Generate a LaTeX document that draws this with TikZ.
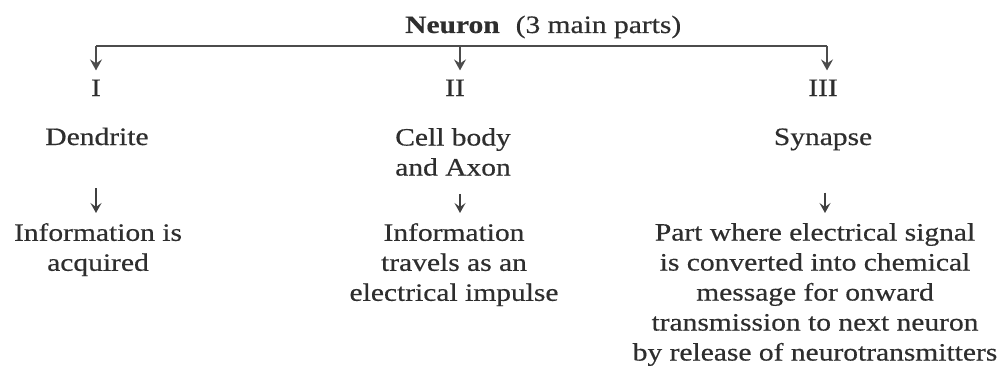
\documentclass[tikz,border=0pt]{standalone}
\usepackage{fontspec}
\setmainfont{Liberation Serif}[FakeStretch=1.18, FakeBold=0.5]
\usetikzlibrary{arrows.meta}
\begin{document}
\begin{tikzpicture}[x=1pt,y=-1pt,
  txt/.style={inner sep=0pt, font=\fontsize{25}{30}\selectfont, text=black!82, align=center},
  bar/.style={draw=black!70, line width=2pt},
  arr/.style={draw=black!70, line width=2pt, -{Stealth[length=11pt,width=12pt,inset=4pt]}},
  arrs/.style={draw=black!75, line width=1.7pt, -{Stealth[length=10pt,width=11pt,inset=4pt]}}]
\useasboundingbox (0,0) rectangle (1000,369);
% title
\node[txt, anchor=base west] (title) at (405,33) {\textbf{Neuron}\hspace{16pt}(3 main parts)};
% roman numerals
\node[txt, anchor=base] (n1) at (96,96) {I};
\node[txt, anchor=base] (n2) at (455,96) {II};
\node[txt, anchor=base] (n3) at (823,96) {III};
% part names
\node[txt, anchor=base] (d1) at (97,145) {Dendrite};
\node[txt, anchor=north] (d2) at (453,128) {Cell body\\and Axon};
\node[txt, anchor=base] (d3) at (823,145) {Synapse};
% descriptions
\node[txt, anchor=north] (e1) at (98,223) {Information is\\acquired};
\node[txt, anchor=north] (e2) at (454,223) {Information\\travels as an\\electrical impulse};
\node[txt, anchor=north] (e3) at (815,223) {Part where electrical signal\\is converted into chemical\\message for onward\\transmission to next neuron\\by release of neurotransmitters};
% branching bar
\coordinate (b1) at (96,46);
\coordinate (b2) at (460,46);
\coordinate (b3) at (827,46);
\draw[bar] (b1) -- (b3);
\draw[arr, shorten >=9pt] (b1) -- (b1 |- n1.north);
\draw[arr, shorten >=9pt] (b2) -- (b2 |- n2.north);
\draw[arr, shorten >=9pt] (b3) -- (b3 |- n3.north);
% small arrows
\draw[arrs, shorten <=43pt, shorten >=10pt] ([xshift=-1pt]d1.south) -- ([xshift=-1pt]d1.south |- e1.north);
\draw[arrs, shorten <=18pt, shorten >=10pt] ([xshift=7pt]d2.south) -- ([xshift=7pt]d2.south |- e2.north);
\draw[arrs, shorten <=42pt, shorten >=10pt] ([xshift=2pt]d3.south) -- ([xshift=2pt]d3.south |- e3.north);
\end{tikzpicture}
\end{document}
